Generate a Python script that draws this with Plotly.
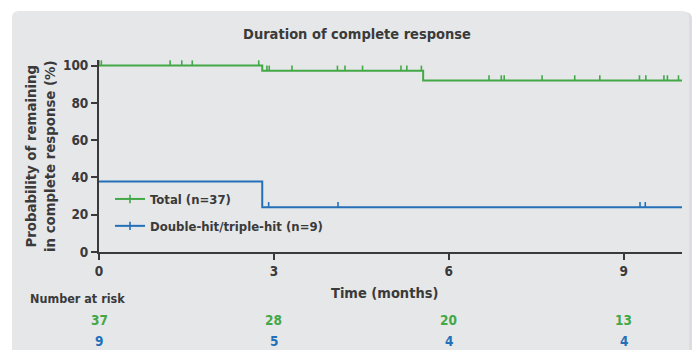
import plotly.graph_objects as go

# Kaplan-Meier steps (time in months, probability in %)
total_t = [0, 2.8, 5.56, 10]
total_p = [100, 97.2, 92, 92]
dh_t = [0, 2.8, 10]
dh_p = [37.8, 24, 24]

# Censoring times
total_cens = [0.0, 0.04, 1.22, 1.42, 1.60, 2.74,
              2.88, 2.92, 3.31, 4.09, 4.22, 4.52, 5.18, 5.28, 5.53,
              6.69, 6.90, 6.95, 7.60, 8.16, 8.59, 9.27, 9.38, 9.69, 9.75, 9.94]
dh_cens = [2.91, 4.10, 9.28, 9.37]

# Number at risk table
risk_times = [0, 3, 6, 9]
risk_total = [37, 28, 20, 13]
risk_dh = [9, 5, 4, 4]

labels = ["Total (n=37)", "Double-hit/triple-hit (n=9)"]
x_ticks = [0, 3, 6, 9]
y_ticks = [0, 20, 40, 60, 80, 100]

GREEN = "#43a846"
BLUE = "#2470b8"
DARK = "#3a3a3a"
PANEL = "#e6e7e9"
FONT = "Liberation Sans Narrow, DejaVu Sans Condensed, Roboto Condensed, Roboto, sans-serif"

W, H = 697, 350
ML, MR, MT, MB = 99, 15, 60, 98
PW, PH = W - ML - MR, H - MT - MB


def px_x(p):
    return (p - ML) / PW


def px_y(p):
    return (H - MB - p) / PH


def step_value(ts, ps, t):
    v = ps[0]
    for ti, pi in zip(ts, ps):
        if t >= ti:
            v = pi
    return v


fig = go.Figure()

for ts, ps, cens, col, name in [
    (total_t, total_p, total_cens, GREEN, labels[0]),
    (dh_t, dh_p, dh_cens, BLUE, labels[1]),
]:
    fig.add_trace(go.Scatter(
        x=ts, y=ps, mode="lines", line=dict(color=col, width=2, shape="hv"),
        showlegend=False, hoverinfo="skip"))
    cy = [step_value(ts, ps, t) for t in cens]
    fig.add_trace(go.Scatter(
        x=cens, y=cy, mode="markers", marker=dict(size=0.1, color=col),
        error_y=dict(type="data", symmetric=False, array=[2.8] * len(cens),
                     arrayminus=[0] * len(cens), color=col, thickness=1.6, width=0),
        showlegend=False, hoverinfo="skip"))
    # legend entry
    fig.add_trace(go.Scatter(
        x=[None], y=[None], mode="lines+markers", name=name,
        legendgroup=name,
        line=dict(color=col, width=2),
        marker=dict(symbol="line-ns-open", size=6, color=col,
                    line=dict(color=col, width=1.6))))

# panel background with soft right-edge shadow
def rounded(x0, y0, x1, y1, r):
    ax0, ax1 = px_x(x0), px_x(x1)
    ay0, ay1 = px_y(y0), px_y(y1)
    rx, ry = r / PW, r / PH
    return (f"M {ax0+rx},{ay0} L {ax1-rx},{ay0} Q {ax1},{ay0} {ax1},{ay0-ry} "
            f"L {ax1},{ay1+ry} Q {ax1},{ay1} {ax1-rx},{ay1} L {ax0+rx},{ay1} "
            f"Q {ax0},{ay1} {ax0},{ay1+ry} L {ax0},{ay0-ry} Q {ax0},{ay0} {ax0+rx},{ay0} Z")

shapes = [
    dict(type="path", xref="paper", yref="paper", layer="below",
         path=rounded(13, 12, 692, 380, 7), fillcolor="#dcdde0", line=dict(width=0)),
    dict(type="path", xref="paper", yref="paper", layer="below",
         path=rounded(12, 11, 689, 380, 7), fillcolor=PANEL, line=dict(width=0)),
]

annotations = [
    dict(text="Probability of remaining<br>in complete response (%)",
         xref="paper", yref="paper", x=px_x(40), y=px_y(156), textangle=-90,
         xanchor="center", yanchor="middle", showarrow=False,
         font=dict(family=FONT, size=14.8, color=DARK, weight="bold")),
    dict(text="Time (months)", xref="paper", yref="paper", x=px_x(384), y=px_y(293),
         xanchor="center", yanchor="middle", showarrow=False,
         font=dict(family=FONT, size=14.5, color=DARK, weight="bold")),
    dict(text="Number at risk", xref="paper", yref="paper", x=px_x(28), y=px_y(298),
         xanchor="left", yanchor="middle", showarrow=False,
         font=dict(family=FONT, size=12.5, color=DARK, weight="bold")),
]
for t, a, b in zip(risk_times, risk_total, risk_dh):
    annotations.append(dict(text=str(a), x=t, xref="x", yref="paper", y=px_y(319.5),
                            xanchor="center", yanchor="middle", showarrow=False,
                            font=dict(family=FONT, size=13.5, color=GREEN, weight="bold")))
    annotations.append(dict(text=str(b), x=t, xref="x", yref="paper", y=px_y(341),
                            xanchor="center", yanchor="middle", showarrow=False,
                            font=dict(family=FONT, size=13.5, color=BLUE, weight="bold")))

fig.update_layout(
    width=W, height=H,
    margin=dict(l=ML, r=MR, t=MT, b=MB),
    paper_bgcolor="white", plot_bgcolor="rgba(0,0,0,0)",
    title=dict(text="Duration of complete response", x=px_x(357), xref="paper",
               xanchor="center", y=1 - 34 / H, yref="container", yanchor="middle",
               font=dict(family=FONT, size=14.5, color=DARK, weight="bold")),
    shapes=shapes, annotations=annotations,
    legend=dict(x=px_x(110), y=px_y(184), xanchor="left", yanchor="top",
                bgcolor="rgba(0,0,0,0)", tracegroupgap=7, itemwidth=30,
                font=dict(family=FONT, size=13, color=DARK, weight="bold")),
    xaxis=dict(range=[0, 10], tickvals=x_ticks, showgrid=False, zeroline=False,
               showline=True, linecolor=DARK, linewidth=2, ticks="outside",
               ticklen=6, tickwidth=2, tickcolor=DARK,
               tickfont=dict(family=FONT, size=13.5, color=DARK, weight="bold")),
    yaxis=dict(range=[0, 103], tickvals=y_ticks, showgrid=False, zeroline=False,
               showline=True, linecolor=DARK, linewidth=2, ticks="outside",
               ticklen=6, tickwidth=2, tickcolor=DARK,
               tickfont=dict(family=FONT, size=13.5, color=DARK, weight="bold")),
)

fig.write_html("out.html")
